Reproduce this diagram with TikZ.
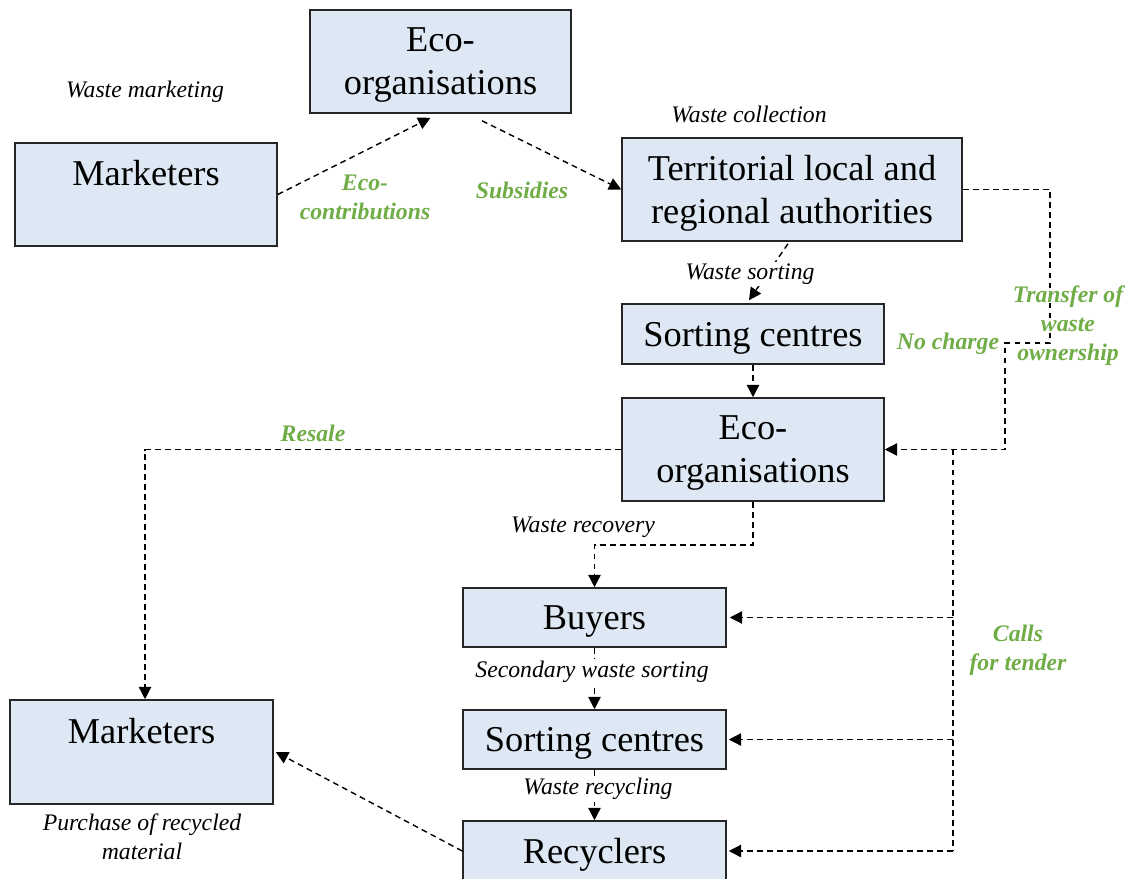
\documentclass[tikz,border=0pt]{standalone}
\usepackage{fontspec}
\setmainfont{Liberation Serif}
\usetikzlibrary{arrows.meta,calc}
\definecolor{boxfill}{RGB}{222,232,244}
\definecolor{boxline}{RGB}{38,38,38}
\definecolor{lgreen}{RGB}{112,173,71}
\begin{document}
\begin{tikzpicture}[x=0.02cm,y=-0.02cm,
 box/.style={draw=boxline, line width=0.9pt, fill=boxfill, inner sep=0pt, align=center, text depth=-3pt, font=\fontsize{20.7}{24.5}\selectfont},
 lbl/.style={font=\fontsize{13.5}{16.5}\selectfont\itshape, align=center, inner sep=1pt},
 glbl/.style={font=\fontsize{13.5}{16.5}\selectfont\bfseries\itshape, text=lgreen, align=center, inner sep=1pt},
 dline/.style={draw=black, line width=0.8pt, dash pattern=on 3.3pt off 2.4pt},
 arr/.style={dline, -{Triangle[length=7pt,width=7pt]}},
]
\useasboundingbox (0,0) rectangle (1136,879);

% boxes
\node[box, minimum width=5.22cm, minimum height=2.06cm] (eco1) at (440.5,61.5) {Eco-\\organisations};
\node[box, minimum width=5.24cm, minimum height=2.06cm] (mk1) at (146,194.5) {Marketers\\~};
\node[box, minimum width=6.8cm, minimum height=2.06cm] (terr) at (792,189.5) {Territorial local and\\regional authorities};
\node[box, minimum width=5.24cm, minimum height=1.2cm] (sc1) at (753,334) {Sorting centres};
\node[box, minimum width=5.24cm, minimum height=2.06cm] (eco2) at (753,449.5) {Eco-\\organisations};
\node[box, minimum width=5.26cm, minimum height=1.18cm] (buy) at (594.5,617.5) {Buyers};
\node[box, minimum width=5.26cm, minimum height=1.18cm] (sc2) at (594.5,739.5) {Sorting centres};
\node[box, minimum width=5.26cm, minimum height=1.2cm] (rec) at (594.5,851) {Recyclers};
\node[box, minimum width=5.26cm, minimum height=2.08cm] (mk2) at (141.5,752) {Marketers\\~};

% helper coordinates
\coordinate (r1) at (1050,189.5);
\coordinate (r2) at (1050,343);
\coordinate (r3) at (1005,343);
\coordinate (jt) at (953,449.5);
\coordinate (w1) at (753,545);

% connectors
\draw[arr] (mk1.east) -- ($(eco1.south)+(-10,4)$);
\draw[arr] ($(eco1.south)+(41.5,7)$) -- (terr.west);
\draw[arr] ($(terr.south)+(-4,2)$) -- ($(sc1.north)+(-4,-3)$);
\draw[arr] (sc1.south) -- (eco2.north);
\draw[arr] (terr.east) -- (r1) -- (r2) -- (r3) -- (r3 |- eco2.east) -- (eco2.east);
\draw[dline] (jt) -- (jt |- rec.east);
\draw[arr] (jt |- buy.east) -- ($(buy.east)+(3,0)$);
\draw[arr] (jt |- sc2.east) -- ($(sc2.east)+(2,0)$);
\draw[arr] (jt |- rec.east) -- ($(rec.east)+(2,0)$);
\draw[arr] (eco2.west) -| ($(mk2.north)+(3.5,0)$);
\draw[arr] (eco2.south) -- (w1) -| (buy.north);
\draw[arr] (buy.south) -- (sc2.north);
\draw[arr] (sc2.south) -- (rec.north);
\draw[arr] (rec.west) -- ($(mk2.east)+(2,0)$);

% labels
\node[lbl] (l1) at (145,92) {Waste marketing};
\node[glbl] (l2) at (365,197) {Eco-\\contributions};
\node[glbl] (l3) at (522,190) {Subsidies};
\node[lbl] (l4) at (749,114) {Waste collection};
\node[lbl, fill=white] (l5) at (750,274) {Waste sorting};
\node[glbl] (l6) at (1068,326) {Transfer of\\waste\\ownership};
\node[glbl] (l7) at (948,344) {No charge};
\node[glbl] (l8) at (313,433) {Resale};
\node[lbl, fill=white] (l9) at (583,527) {Waste recovery};
\node[lbl, fill=white] (l10) at (592,672) {Secondary waste sorting};
\node[lbl, fill=white] (l11) at (598,789) {Waste recycling};
\node[glbl] (l12) at (1018,650) {Calls\\for tender};
\node[lbl] (l13) at (142,837) {Purchase of recycled\\material};
\end{tikzpicture}
\end{document}
